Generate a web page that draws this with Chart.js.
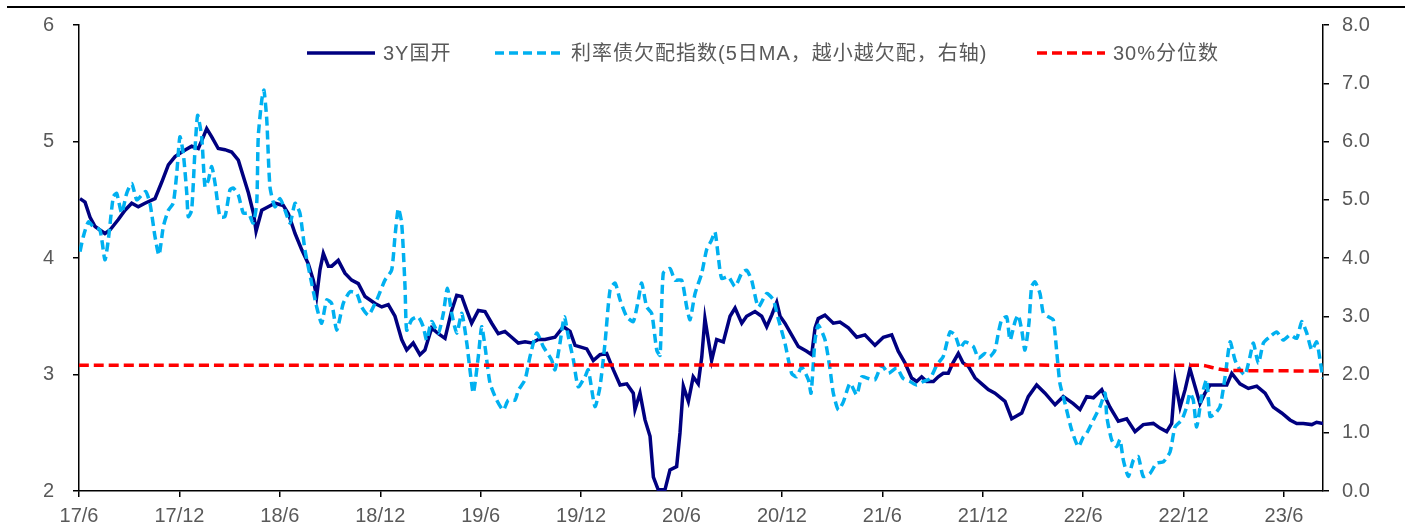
<!DOCTYPE html>
<html>
<head>
<meta charset="utf-8">
<script src="https://cdn.jsdelivr.net/npm/chart.js@4.4.0/dist/chart.umd.min.js"></script>
<style>
  html, body { margin: 0; padding: 0; background: #fff; }
  #wrap { position: relative; width: 1405px; height: 532px; }
  #rule { position: absolute; left: 7px; right: 0; top: 6px; height: 2px; background: #000; }
</style>
</head>
<body>
<div id="wrap">
  <canvas id="chart" width="1405" height="532"></canvas>
  <div id="rule"></div>
</div>
<script>
// --- Datos (x = meses desde 2017-06) ---
const tickMonths = [0, 6, 12, 18, 24, 30, 36, 42, 48, 54, 60, 66, 72];
const tickLabels = ['17/6', '17/12', '18/6', '18/12', '19/6', '19/12', '20/6', '20/12', '21/6', '21/12', '22/6', '22/12', '23/6'];
const lastMonth = 74.33;

const seriesNames = ['3Y国开', '利率债欠配指数(5日MA，越小越欠配，右轴)', '30%分位数'];

// 3Y国开 (eje izquierdo)
const bondMonths = [0.06, 0.36, 0.66, 0.96, 1.55, 1.85, 2.35, 2.75, 3.15, 3.54, 3.94, 4.54, 4.94, 5.34, 5.74, 6.14,
  6.73, 7.13, 7.43, 7.63, 7.93, 8.32, 8.72, 9.12, 9.52, 9.82, 10.12, 10.43, 10.58, 10.92, 11.31, 11.71, 12.21, 12.51,
  12.91, 13.31, 13.70, 14.00, 14.20, 14.40, 14.60, 14.90, 15.10, 15.49, 15.89, 16.29, 16.69, 17.09, 17.69, 18.09,
  18.48, 18.88, 19.28, 19.58, 19.97, 20.37, 20.67, 21.07, 21.47, 21.87, 22.27, 22.57, 22.87, 23.17, 23.46, 23.86,
  24.26, 24.66, 25.05, 25.45, 25.85, 26.25, 26.65, 27.05, 27.44, 27.84, 28.44, 28.94, 29.34, 29.64, 30.34, 30.73,
  31.13, 31.53, 31.93, 32.33, 32.73, 33.12, 33.22, 33.52, 33.82, 34.12, 34.32, 34.61, 35.01, 35.31, 35.71, 35.91,
  36.11, 36.41, 36.70, 37.00, 37.21, 37.40, 37.60, 37.80, 38.10, 38.50, 38.90, 39.20, 39.60, 39.89, 40.39, 40.79,
  41.09, 41.39, 41.69, 41.89, 42.18, 42.58, 42.98, 43.48, 43.78, 43.98, 44.17, 44.57, 45.07, 45.47, 45.97, 46.47,
  46.96, 47.56, 48.06, 48.56, 48.95, 49.35, 49.75, 50.05, 50.35, 50.65, 51.05, 51.34, 51.64, 51.94, 52.22, 52.54,
  52.82, 53.14, 53.54, 53.94, 54.33, 54.73, 55.33, 55.73, 56.33, 56.72, 57.22, 57.72, 58.32, 58.81, 59.41, 59.81,
  60.21, 60.61, 61.11, 61.60, 62.10, 62.60, 63.10, 63.59, 64.19, 64.59, 64.99, 65.29, 65.49, 65.79, 66.09, 66.38,
  66.68, 66.98, 67.28, 67.58, 68.18, 68.58, 68.88, 69.37, 69.87, 70.37, 70.87, 71.36, 71.86, 72.36, 72.76, 73.15,
  73.66, 73.95, 74.33];
const bondYield = [4.51, 4.48, 4.35, 4.27, 4.21, 4.24, 4.33, 4.41, 4.47, 4.44, 4.47, 4.51, 4.65, 4.80, 4.87, 4.91,
  4.96, 4.94, 5.04, 5.11, 5.04, 4.94, 4.93, 4.91, 4.84, 4.70, 4.56, 4.38, 4.23, 4.41, 4.44, 4.47, 4.45, 4.38,
  4.21, 4.07, 3.95, 3.81, 3.67, 3.90, 4.04, 3.93, 3.93, 3.98, 3.87, 3.81, 3.78, 3.67, 3.61, 3.58,
  3.60, 3.50, 3.30, 3.21, 3.27, 3.17, 3.21, 3.40, 3.35, 3.31, 3.55, 3.68, 3.67, 3.55, 3.44, 3.55,
  3.54, 3.44, 3.35, 3.37, 3.32, 3.27, 3.28, 3.27, 3.30, 3.30, 3.32, 3.41, 3.37, 3.25, 3.22, 3.12,
  3.17, 3.18, 3.04, 2.91, 2.92, 2.84, 2.70, 2.84, 2.61, 2.47, 2.12, 2.01, 2.01, 2.18, 2.21, 2.50,
  2.90, 2.77, 2.98, 2.92, 3.15, 3.48, 3.30, 3.12, 3.30, 3.28, 3.50, 3.57, 3.44, 3.50, 3.54, 3.50,
  3.41, 3.51, 3.62, 3.50, 3.44, 3.34, 3.24, 3.20, 3.17, 3.40, 3.48, 3.51, 3.44, 3.45, 3.40, 3.32,
  3.34, 3.25, 3.32, 3.34, 3.20, 3.10, 2.97, 2.94, 2.98, 2.94, 2.94, 2.98, 3.01, 3.01, 3.10, 3.18,
  3.10, 3.07, 2.97, 2.92, 2.87, 2.84, 2.77, 2.62, 2.67, 2.81, 2.91, 2.84, 2.74, 2.81, 2.75, 2.70,
  2.81, 2.80, 2.87, 2.72, 2.60, 2.62, 2.51, 2.57, 2.58, 2.54, 2.51, 2.58, 2.95, 2.72, 2.87, 3.05,
  2.90, 2.75, 2.84, 2.91, 2.91, 2.91, 3.01, 2.92, 2.88, 2.90, 2.84, 2.72, 2.67, 2.61, 2.58, 2.58,
  2.57, 2.59, 2.58];

// 利率债欠配指数 (eje derecho)
const idxMonths = [0.06, 0.26, 0.56, 0.85, 1.25, 1.55, 1.75, 2.05, 2.25, 2.55, 2.85, 3.15, 3.45, 3.75, 3.99, 4.24,
  4.54, 4.78, 5.04, 5.34, 5.63, 5.84, 6.03, 6.23, 6.44, 6.53, 6.73, 6.93, 7.09, 7.33, 7.53, 7.73, 7.93, 8.13,
  8.42, 8.72, 9.02, 9.22, 9.52, 9.82, 10.12, 10.41, 10.62, 10.71, 10.92, 11.05, 11.22, 11.41, 11.71, 12.01,
  12.31, 12.61, 12.91, 13.20, 13.50, 13.90, 14.20, 14.50, 14.80, 15.10, 15.40, 15.79, 16.19, 16.59, 16.89, 17.29,
  17.79, 18.28, 18.68, 18.88, 19.08, 19.28, 19.48, 19.58, 19.88, 20.27, 20.57, 20.77, 21.07, 21.47, 21.77, 22.01,
  22.27, 22.57, 22.87, 23.17, 23.36, 23.56, 23.86, 24.06, 24.26, 24.56, 24.96, 25.35, 25.65, 26.05, 26.25, 26.65,
  26.95, 27.35, 27.74, 28.24, 28.44, 28.74, 29.00, 29.24, 29.54, 29.83, 30.23, 30.43, 30.83, 31.13, 31.43, 31.73,
  32.03, 32.33, 32.73, 33.12, 33.42, 33.62, 33.92, 34.22, 34.52, 34.72, 34.91, 35.31, 35.61, 36.01, 36.31, 36.51,
  36.81, 37.21, 37.50, 37.80, 38.00, 38.20, 38.40, 38.80, 39.20, 39.60, 39.89, 40.19, 40.59, 41.09, 41.49, 41.78,
  42.18, 42.58, 42.88, 43.18, 43.58, 43.74, 43.98, 44.17, 44.57, 44.87, 45.07, 45.37, 45.67, 46.07, 46.47, 46.77,
  47.17, 47.56, 47.96, 48.36, 48.86, 49.25, 49.65, 50.05, 50.45, 50.85, 51.25, 51.64, 52.04, 52.34, 52.64, 52.94,
  53.44, 53.74, 54.13, 54.43, 54.73, 54.93, 55.13, 55.43, 55.63, 55.93, 56.12, 56.33, 56.52, 56.76, 56.92, 57.12,
  57.42, 57.62, 57.92, 58.21, 58.41, 58.61, 58.91, 59.31, 59.71, 60.01, 60.21, 60.61, 61.01, 61.31, 61.41, 61.70,
  62.00, 62.20, 62.40, 62.70, 63.00, 63.29, 63.59, 63.99, 64.39, 64.79, 65.19, 65.49, 65.89, 66.19, 66.38, 66.58,
  66.78, 67.08, 67.38, 67.58, 67.88, 68.18, 68.48, 68.78, 69.07, 69.37, 69.67, 69.97, 70.17, 70.47, 70.77, 71.17,
  71.56, 71.96, 72.36, 72.76, 73.06, 73.36, 73.66, 73.95, 74.15, 74.33];
const idxValues = [4.11, 4.37, 4.62, 4.54, 4.48, 3.97, 4.31, 5.05, 5.11, 4.77, 5.11, 5.28, 5.00, 5.08, 5.14, 4.94,
  4.37, 4.05, 4.54, 4.82, 4.94, 5.45, 6.08, 5.80, 5.11, 4.71, 4.82, 5.85, 6.45, 6.08, 5.22, 5.34, 5.57, 5.28,
  4.71, 4.71, 5.17, 5.20, 5.08, 4.77, 4.77, 4.60, 4.94, 6.08, 6.71, 6.88, 6.37, 5.22, 4.88, 5.02,
  4.82, 4.60, 4.94, 4.77, 4.14, 3.57, 3.16, 2.88, 3.28, 3.22, 2.76, 3.22, 3.42, 3.39, 3.16, 3.02,
  3.28, 3.62, 3.79, 4.37, 4.85, 4.60, 3.51, 2.76, 2.94, 2.99, 2.82, 2.59, 2.91, 2.71, 3.05, 3.48,
  3.05, 2.71, 3.05, 2.54, 2.08, 1.68, 2.31, 2.82, 2.48, 1.85, 1.56, 1.39, 1.56, 1.56, 1.73, 1.91,
  2.31, 2.71, 2.48, 2.25, 2.08, 2.54, 2.99, 2.65, 2.25, 1.79, 1.96, 2.08, 1.45, 1.79, 2.54, 3.45,
  3.57, 3.28, 2.99, 2.91, 3.28, 3.57, 3.16, 3.05, 2.42, 2.33, 3.74, 3.82, 3.62, 3.62, 3.16, 2.94,
  3.39, 3.74, 4.14, 4.31, 4.45, 4.02, 3.65, 3.68, 3.51, 3.74, 3.79, 3.62, 3.16, 3.39, 3.28, 2.96,
  2.54, 2.02, 1.96, 2.13, 1.91, 1.68, 2.59, 2.85, 2.60, 2.10, 1.68, 1.39, 1.53, 1.85, 1.65, 1.96,
  1.93, 1.91, 2.16, 2.02, 2.11, 1.93, 1.88, 1.82, 1.88, 1.93, 2.16, 2.31, 2.73, 2.68, 2.45, 2.56,
  2.48, 2.28, 2.36, 2.31, 2.42, 2.71, 2.94, 2.99, 2.59, 2.91, 3.02, 2.76, 2.42, 2.88, 3.51, 3.59,
  3.39, 3.05, 2.99, 2.94, 2.42, 1.85, 1.51, 1.05, 0.76, 0.93, 0.99, 1.22, 1.45, 1.68, 1.28, 0.88,
  0.76, 0.88, 0.53, 0.25, 0.53, 0.59, 0.25, 0.30, 0.48, 0.50, 0.67, 1.10, 1.22, 1.45, 1.68, 1.56,
  1.10, 1.62, 1.91, 1.28, 1.33, 1.45, 1.96, 2.56, 2.25, 2.08, 1.99, 2.31, 2.54, 2.19, 2.54, 2.65,
  2.73, 2.59, 2.68, 2.62, 2.91, 2.71, 2.42, 2.56, 2.25, 1.93];

// 30%分位数 (eje derecho)
const pctMonths = [0, 66.98, 67.28, 67.70, 68.18, 68.78, 74.33];
const pctValues = [2.16, 2.16, 2.15, 2.12, 2.09, 2.07, 2.06];

const toPoints = (xs, ys) => xs.map((x, i) => ({ x: x, y: ys[i] }));

// --- Estilo ---
const TEXT_COLOR = '#595959';
const FONT_FAMILY = '"Liberation Sans", Arial, "Noto Sans CJK SC", sans-serif';

// leyenda propia (posiciones fijas como en la imagen)
const legendStarts = [307, 495, 1037];
const legendPlugin = {
  id: 'customLegend',
  afterDraw(chart) {
    const ctx = chart.ctx;
    const y = 53;
    ctx.save();
    chart.data.datasets.forEach((ds, i) => {
      const x0 = legendStarts[i];
      ctx.beginPath();
      ctx.strokeStyle = ds.borderColor;
      ctx.lineWidth = ds.borderWidth;
      ctx.setLineDash(ds.borderDash || []);
      ctx.lineCap = 'butt';
      ctx.moveTo(x0, y);
      ctx.lineTo(x0 + 68, y);
      ctx.stroke();
      ctx.setLineDash([]);
      ctx.fillStyle = TEXT_COLOR;
      ctx.font = '20px ' + FONT_FAMILY;
      ctx.letterSpacing = '1px';
      ctx.textBaseline = 'middle';
      ctx.textAlign = 'left';
      ctx.fillText(ds.label, x0 + 76, y + 1);
    });
    ctx.restore();
  }
};

// los ejes verticales no deben empujar el área del gráfico
const fixVertical = w => s => { s.width = w; s.paddingTop = 0; s.paddingBottom = 0; };

const axisGrid = { display: true, drawOnChartArea: false, drawTicks: true, tickLength: 6, color: '#000', lineWidth: 1.5 };
const axisBorder = { display: true, color: '#000', width: 1.5 };
const tickFont = { family: FONT_FAMILY, size: 20 };

const chart = new Chart(document.getElementById('chart').getContext('2d'), {
  type: 'line',
  data: {
    datasets: [
      {
        label: seriesNames[0], data: toPoints(bondMonths, bondYield), yAxisID: 'y',
        borderColor: '#000080', borderWidth: 3.5, pointRadius: 0, tension: 0, order: 3
      },
      {
        label: seriesNames[1], data: toPoints(idxMonths, idxValues), yAxisID: 'y1',
        borderColor: '#00b0f0', borderWidth: 3.5, borderDash: [9, 5], pointRadius: 0, tension: 0.2, order: 2
      },
      {
        label: seriesNames[2], data: toPoints(pctMonths, pctValues), yAxisID: 'y1',
        borderColor: '#ff0000', borderWidth: 3.5, borderDash: [10, 5], pointRadius: 0, tension: 0.3, order: 1
      }
    ]
  },
  options: {
    responsive: false,
    animation: false,
    layout: { padding: { top: 25, left: 0, right: 0, bottom: 0 } },
    plugins: { legend: { display: false }, tooltip: { enabled: false } },
    scales: {
      x: {
        type: 'linear', min: 0, max: lastMonth,
        afterBuildTicks: s => { s.ticks = tickMonths.map(v => ({ value: v })); },
        afterFit: s => { s.height = 41; },
        grid: axisGrid, border: axisBorder,
        ticks: { callback: (v, i) => tickLabels[i], color: TEXT_COLOR, font: tickFont, padding: 7, maxRotation: 0, autoSkip: false }
      },
      y: {
        position: 'left', min: 2, max: 6,
        afterFit: fixVertical(79),
        grid: axisGrid, border: axisBorder,
        ticks: { stepSize: 1, color: TEXT_COLOR, font: tickFont, padding: 19 }
      },
      y1: {
        position: 'right', min: 0, max: 8,
        afterFit: fixVertical(82),
        grid: axisGrid, border: axisBorder,
        ticks: { stepSize: 1, color: TEXT_COLOR, font: tickFont, padding: 13, callback: v => v.toFixed(1) }
      }
    }
  },
  plugins: [legendPlugin]
});
</script>
</body>
</html>
